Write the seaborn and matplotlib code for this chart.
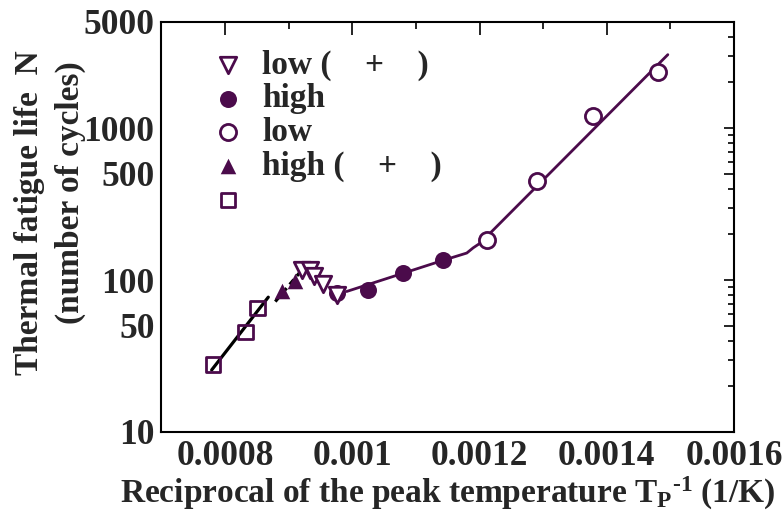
import matplotlib
matplotlib.use("Agg")
import matplotlib.pyplot as plt
import seaborn as sns
import pandas as pd
from matplotlib.ticker import FixedLocator, FixedFormatter, LogLocator, NullFormatter, MultipleLocator

# ---------------- data ----------------
sq_x = [0.000781, 0.000832, 0.000851]
sq_y = [27.8, 45.6, 65.6]
htri_x = [0.000889, 0.000910]
htri_y = [85, 99]
ltri_x = [0.000921, 0.000933, 0.000940, 0.000954, 0.000976]
ltri_y = [117, 117, 107, 94, 80]
hcirc_x = [0.000976, 0.001025, 0.00108, 0.001142]
hcirc_y = [82.4, 86.3, 111, 134.6]
lcirc_x = [0.001211, 0.00129, 0.001379, 0.00148]
lcirc_y = [184, 446, 1197, 2333]

fit_solid_x = [0.000779, 0.000868]
fit_solid_y = [25.6, 77.2]
fit_dash_x = [0.000879, 0.000921]
fit_dash_y = [72.2, 116.8]
curve_x = [0.000991, 0.001142, 0.00118, 0.00119, 0.001201, 0.001496]
curve_y = [84.1, 134.6, 150.7, 163, 175, 3048]

x_ticks = [0.0008, 0.001, 0.0012, 0.0014, 0.0016]
x_tick_labels = ["0.0008", "0.001", "0.0012", "0.0014", "0.0016"]
y_ticks = [10, 50, 100, 500, 1000, 5000]
y_tick_labels = ["10", "50", "100", "500", "1000", "5000"]

legend_labels = ["low (    +    )", "high", "low", "high (    +    )", " "]

# ---------------- style ----------------
sns.set_style("white")
plt.rcParams['font.family'] = ['Liberation Serif', 'DejaVu Serif']
plt.rcParams['font.weight'] = 'bold'
plt.rcParams['mathtext.fontset'] = 'custom'
plt.rcParams['mathtext.rm'] = 'Liberation Serif:bold'
plt.rcParams['mathtext.bf'] = 'Liberation Serif:bold'
plt.rcParams['mathtext.it'] = 'Liberation Serif:bold'

PURPLE = '#4B0B4B'
FS = 24
TFS = 25.5

fig = plt.figure(figsize=(7.84, 5.13), dpi=100)
ax = fig.add_axes([161.4/784, 1-432/513, (734-161.4)/784, (432-22)/513])

# lines
sns.lineplot(x=fit_solid_x, y=fit_solid_y, ax=ax, color='black', lw=2.3, sort=False,
             estimator=None, zorder=2)
sns.lineplot(x=fit_dash_x, y=fit_dash_y, ax=ax, color='black', lw=2.3, sort=False,
             estimator=None, zorder=2, linestyle=(0, (2.0, 1.5)))
sns.lineplot(x=curve_x, y=curve_y, ax=ax, color=PURPLE, lw=2.0, sort=False,
             estimator=None, zorder=2)

# markers
h1 = ax.scatter(ltri_x, ltri_y, marker='v', s=140, facecolor='white', edgecolor=PURPLE,
                linewidth=2.0, zorder=4)
sns.scatterplot(x=hcirc_x, y=hcirc_y, ax=ax, marker='o', s=150, color=PURPLE,
                edgecolor=PURPLE, linewidth=0, zorder=3)
h2 = ax.collections[-1]
h3 = ax.scatter(lcirc_x, lcirc_y, marker='o', s=135, facecolor='white', edgecolor=PURPLE,
                linewidth=2.0, zorder=4)
sns.scatterplot(x=htri_x, y=htri_y, ax=ax, marker='^', s=125, color=PURPLE,
                edgecolor=PURPLE, linewidth=0, zorder=3)
h4 = ax.collections[-1]
h5 = ax.scatter(sq_x, sq_y, marker='s', s=110, facecolor='none', edgecolor=PURPLE,
                linewidth=2.0, zorder=4)

# axes
ax.set_yscale('log')
ax.set_xlim(0.0007, 0.0016)
ax.set_ylim(10, 5000)
ax.xaxis.set_major_locator(FixedLocator(x_ticks))
ax.xaxis.set_major_formatter(FixedFormatter(x_tick_labels))
ax.xaxis.set_minor_locator(MultipleLocator(0.0001))
ax.yaxis.set_major_locator(FixedLocator(y_ticks))
ax.yaxis.set_major_formatter(FixedFormatter(y_tick_labels))
ax.yaxis.set_minor_locator(LogLocator(base=10, subs=[2, 3, 4, 6, 7, 8, 9]))
ax.yaxis.set_minor_formatter(NullFormatter())

for sp in ax.spines.values():
    sp.set_visible(True)
    sp.set_color('black')
    sp.set_linewidth(1.5)

ax.tick_params(which='both', direction='in', top=True, right=True, color='black',
               width=1.2)
ax.tick_params(axis='x', which='major', length=9, pad=6, labelsize=TFS)
ax.tick_params(axis='x', which='minor', length=5)
ax.tick_params(axis='y', which='major', length=7, pad=5, labelsize=TFS)
ax.tick_params(axis='y', which='minor', length=4)
for lab in ax.get_xticklabels() + ax.get_yticklabels():
    lab.set_fontweight('bold')

ax.set_xlabel(r"Reciprocal of the peak temperature T$_{\mathrm{P}}$$^{\text{-1}}$ (1/K)",
              fontsize=FS, fontweight='bold', labelpad=1)
ax.set_ylabel("")
fig.text(30/784, 1-212.5/513, "Thermal fatigue life  N", rotation=90, fontsize=FS,
         fontweight='bold', ha='center', va='center')
fig.text(70/784, 1-192.5/513, "(number of cycles)", rotation=90, fontsize=FS,
         fontweight='bold', ha='center', va='center')

leg = ax.legend([h1, h2, h3, h4, h5], legend_labels, loc='upper left',
                bbox_to_anchor=(211.3/784, 1-49.5/513), bbox_transform=fig.transFigure,
                frameon=False, handlelength=1.0, handletextpad=0.53,
                labelspacing=0.08, borderpad=0, borderaxespad=0, scatterpoints=1,
                prop={'weight': 'bold', 'size': FS})

fig.savefig("out.png", dpi=100)
